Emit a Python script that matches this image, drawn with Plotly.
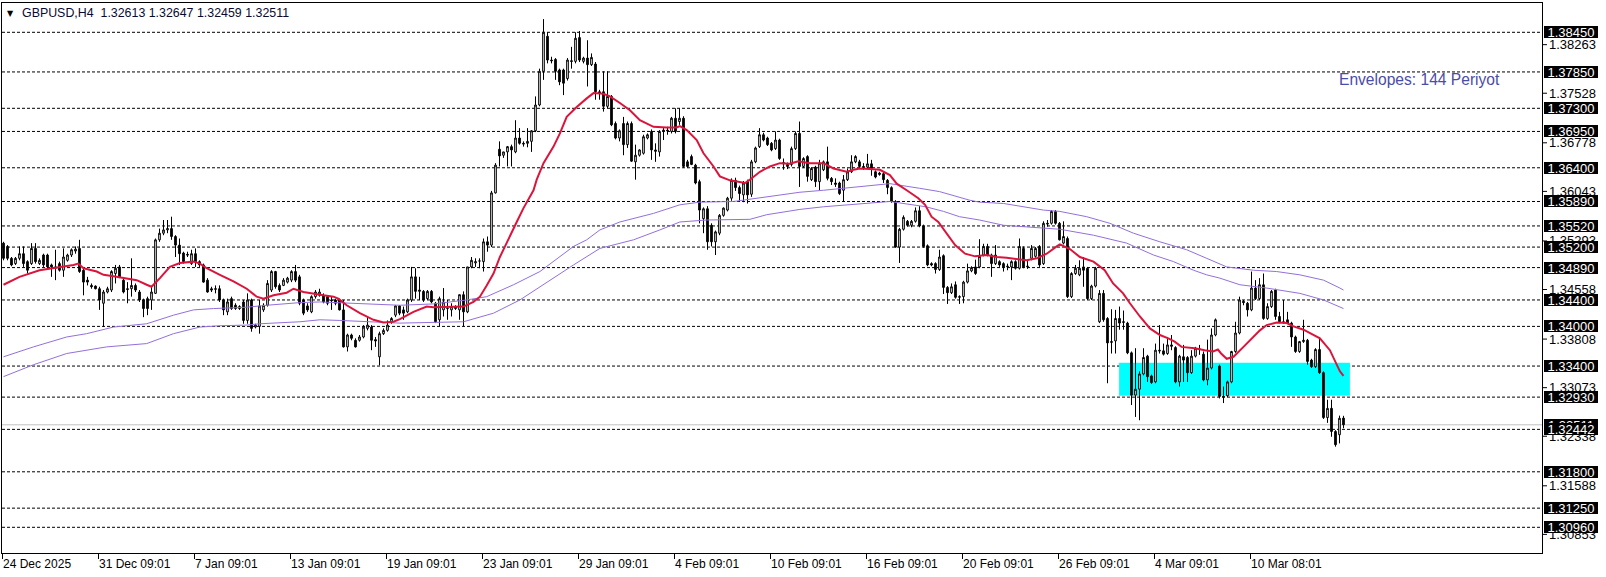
import plotly.graph_objects as go

# ---------------- data ----------------
open_ = [
1.3526,1.3521,1.3503,1.3495,1.3503,1.3510,1.3498,1.3495,1.3518,1.3495,
1.3508,1.3508,1.3493,1.3488,1.3495,1.3485,1.3500,1.3508,1.3514,1.3518,
1.3485,1.3470,1.3462,1.3461,1.3457,1.3435,1.3452,1.3455,1.3480,1.3490,
1.3470,1.3457,1.3457,1.3462,1.3452,1.3440,1.3442,1.3440,1.3450,1.3531,
1.3541,1.3546,1.3548,1.3536,1.3523,1.3511,1.3509,1.3495,1.3510,1.3498,
1.3493,1.3470,1.3457,1.3456,1.3457,1.3440,1.3422,1.3442,1.3432,1.3430,
1.3437,1.3409,1.3440,1.3399,1.3400,1.3425,1.3432,1.3455,1.3483,1.3462,
1.3462,1.3467,1.3470,1.3483,1.3475,1.3440,1.3431,1.3422,1.3445,1.3447,
1.3447,1.3445,1.3440,1.3440,1.3440,1.3425,1.3369,1.3387,1.3379,1.3379,
1.3384,1.3397,1.3399,1.3380,1.3354,1.3389,1.3394,1.3407,1.3417,1.3431,
1.3425,1.3422,1.3440,1.3475,1.3453,1.3453,1.3442,1.3453,1.3435,1.3410,
1.3425,1.3427,1.3425,1.3430,1.3425,1.3448,1.3422,1.3490,1.3496,1.3499,
1.3498,1.3528,1.3523,1.3602,1.3668,1.3659,1.3664,1.3672,1.3664,1.3685,
1.3677,1.3677,1.3680,1.3696,1.3735,1.3786,1.3839,1.3803,1.3804,1.3788,
1.3788,1.3775,1.3802,1.3801,1.3837,1.3801,1.3806,1.3796,1.3797,1.3755,
1.3755,1.3733,1.3748,1.3707,1.3685,1.3707,1.3675,1.3707,1.3649,1.3659,
1.3662,1.3685,1.3695,1.3667,1.3664,1.3695,1.3697,1.3695,1.3715,1.3710,
1.3715,1.3649,1.3657,1.3644,1.3619,1.3563,1.3578,1.3553,1.3528,1.3541,
1.3568,1.3576,1.3594,1.3621,1.3610,1.3599,1.3619,1.3600,1.3649,1.3672,
1.3690,1.3685,1.3677,1.3669,1.3682,1.3648,1.3645,1.3645,1.3669,1.3692,
1.3642,1.3657,1.3622,1.3641,1.3619,1.3637,1.3649,1.3624,1.3617,1.3617,
1.3606,1.3622,1.3634,1.3649,1.3649,1.3642,1.3641,1.3646,1.3634,1.3632,
1.3631,1.3621,1.3610,1.3589,1.3520,1.3547,1.3559,1.3553,1.3559,1.3575,
1.3552,1.3522,1.3495,1.3495,1.3486,1.3507,1.3459,1.3451,1.3463,1.3444,
1.3445,1.3467,1.3484,1.3490,1.3490,1.3508,1.3521,1.3508,1.3495,1.3498,
1.3495,1.3490,1.3490,1.3498,1.3488,1.3518,1.3490,1.3503,1.3506,1.3521,
1.3495,1.3556,1.3556,1.3574,1.3556,1.3526,1.3533,1.3445,1.3480,1.3478,
1.3490,1.3488,1.3442,1.3461,1.3407,1.3450,1.3412,1.3377,1.3378,1.3412,
1.3406,1.3405,1.3360,1.3296,1.3305,1.3328,1.3355,1.3325,1.3316,1.3364,
1.3363,1.3359,1.3372,1.3368,1.3316,1.3354,1.3353,1.3330,1.3355,1.3366,
1.3358,1.3319,1.3337,1.3387,1.3340,1.3294,1.3295,1.3316,1.3362,1.3390,
1.3438,1.3435,1.3425,1.3458,1.3442,1.3463,1.3412,1.3430,1.3455,1.3415,
1.3407,1.3410,1.3405,1.3384,1.3362,1.3377,1.3379,1.3349,1.3339,1.3365,
1.3330,1.3262,1.3276,1.3241,1.3236,1.32613]

high = [
1.3528,1.3523,1.3505,1.3505,1.3521,1.3521,1.3500,1.3526,1.3526,1.3503,
1.3510,1.3510,1.3495,1.3516,1.3498,1.3518,1.3510,1.3518,1.3521,1.3531,
1.3488,1.3475,1.3465,1.3462,1.3460,1.3455,1.3460,1.3485,1.3493,1.3493,
1.3473,1.3467,1.3503,1.3465,1.3455,1.3442,1.3445,1.3460,1.3533,1.3548,
1.3561,1.3561,1.3566,1.3538,1.3533,1.3513,1.3513,1.3516,1.3518,1.3500,
1.3495,1.3473,1.3460,1.3462,1.3462,1.3442,1.3442,1.3445,1.3435,1.3432,
1.3440,1.3450,1.3442,1.3404,1.3440,1.3435,1.3470,1.3485,1.3484,1.3465,
1.3473,1.3475,1.3485,1.3493,1.3478,1.3442,1.3435,1.3447,1.3455,1.3457,
1.3450,1.3447,1.3445,1.3442,1.3442,1.3440,1.3389,1.3389,1.3382,1.3387,
1.3402,1.3414,1.3402,1.3384,1.3392,1.3397,1.3409,1.3414,1.3432,1.3432,
1.3430,1.3442,1.3490,1.3488,1.3475,1.3455,1.3455,1.3455,1.3437,1.3445,
1.3458,1.3440,1.3435,1.3432,1.3448,1.3453,1.3490,1.3505,1.3503,1.3503,
1.3533,1.3536,1.3605,1.3647,1.3680,1.3664,1.3673,1.3675,1.3712,1.3700,
1.3680,1.3700,1.3697,1.3748,1.3790,1.3865,1.3845,1.3808,1.3806,1.3790,
1.3790,1.3806,1.3823,1.3845,1.3847,1.3808,1.3833,1.3813,1.3800,1.3758,
1.3786,1.3786,1.3750,1.3710,1.3698,1.3717,1.3710,1.3710,1.3675,1.3668,
1.3690,1.3692,1.3698,1.3677,1.3697,1.3700,1.3702,1.3717,1.3730,1.3730,
1.3718,1.3652,1.3660,1.3646,1.3622,1.3580,1.3582,1.3556,1.3545,1.3570,
1.3580,1.3596,1.3624,1.3625,1.3613,1.3620,1.3622,1.3652,1.3672,1.3700,
1.3693,1.3687,1.3679,1.3695,1.3684,1.3654,1.3648,1.3672,1.3695,1.3710,
1.3656,1.3659,1.3641,1.3643,1.3652,1.3651,1.3672,1.3626,1.3624,1.3619,
1.3629,1.3639,1.3659,1.3659,1.3652,1.3647,1.3661,1.3652,1.3636,1.3634,
1.3634,1.3623,1.3612,1.3591,1.3549,1.3568,1.3561,1.3561,1.3580,1.3582,
1.3554,1.3524,1.3497,1.3497,1.3516,1.3509,1.3461,1.3465,1.3468,1.3447,
1.3469,1.3495,1.3491,1.3501,1.3532,1.3525,1.3525,1.3510,1.3523,1.3500,
1.3497,1.3495,1.3500,1.3500,1.3533,1.3521,1.3500,1.3523,1.3520,1.3523,
1.3559,1.3561,1.3576,1.3576,1.3558,1.3559,1.3536,1.3482,1.3493,1.3500,
1.3505,1.3490,1.3463,1.3490,1.3455,1.3455,1.3414,1.3426,1.3425,1.3430,
1.3424,1.3407,1.3362,1.3367,1.3332,1.3367,1.3357,1.3327,1.3374,1.3402,
1.3374,1.3384,1.3387,1.3370,1.3357,1.3372,1.3355,1.3364,1.3369,1.3372,
1.3362,1.3380,1.3397,1.3412,1.3342,1.3309,1.3318,1.3363,1.3407,1.3445,
1.3440,1.3437,1.3483,1.3470,1.3473,1.3480,1.3435,1.3455,1.3457,1.3422,
1.3440,1.3422,1.3407,1.3386,1.3378,1.3410,1.3381,1.3351,1.3367,1.3384,
1.3332,1.3289,1.3289,1.3243,1.3265,1.32647]

low = [
1.3500,1.3500,1.3491,1.3493,1.3500,1.3490,1.3480,1.3493,1.3495,1.3493,
1.3490,1.3488,1.3475,1.3470,1.3483,1.3475,1.3498,1.3505,1.3510,1.3481,
1.3447,1.3462,1.3457,1.3456,1.3425,1.3399,1.3450,1.3452,1.3465,1.3473,
1.3450,1.3435,1.3445,1.3452,1.3437,1.3414,1.3417,1.3425,1.3449,1.3528,
1.3538,1.3541,1.3531,1.3505,1.3493,1.3495,1.3505,1.3493,1.3490,1.3490,
1.3466,1.3451,1.3452,1.3450,1.3437,1.3417,1.3417,1.3425,1.3425,1.3425,
1.3404,1.3404,1.3392,1.3397,1.3389,1.3422,1.3430,1.3452,1.3457,1.3452,
1.3461,1.3465,1.3467,1.3467,1.3432,1.3417,1.3422,1.3420,1.3442,1.3445,
1.3435,1.3432,1.3425,1.3432,1.3424,1.3368,1.3362,1.3379,1.3368,1.3377,
1.3382,1.3394,1.3364,1.3369,1.3341,1.3387,1.3392,1.3404,1.3414,1.3417,
1.3410,1.3420,1.3437,1.3442,1.3440,1.3437,1.3440,1.3435,1.3405,1.3400,
1.3415,1.3410,1.3415,1.3425,1.3410,1.3400,1.3420,1.3488,1.3490,1.3488,
1.3483,1.3513,1.3520,1.3601,1.3642,1.3655,1.3642,1.3642,1.3662,1.3675,
1.3672,1.3671,1.3664,1.3694,1.3733,1.3773,1.3798,1.3798,1.3773,1.3765,
1.3750,1.3772,1.3790,1.3798,1.3800,1.3798,1.3763,1.3794,1.3743,1.3743,
1.3725,1.3730,1.3703,1.3683,1.3680,1.3659,1.3670,1.3649,1.3622,1.3657,
1.3660,1.3683,1.3652,1.3649,1.3657,1.3682,1.3690,1.3692,1.3692,1.3705,
1.3640,1.3640,1.3644,1.3615,1.3556,1.3541,1.3516,1.3521,1.3508,1.3538,
1.3566,1.3574,1.3590,1.3605,1.3590,1.3588,1.3586,1.3596,1.3647,1.3670,
1.3680,1.3673,1.3665,1.3667,1.3652,1.3637,1.3638,1.3642,1.3667,1.3611,
1.3640,1.3619,1.3620,1.3611,1.3606,1.3635,1.3621,1.3614,1.3611,1.3599,
1.3589,1.3620,1.3632,1.3647,1.3640,1.3637,1.3639,1.3628,1.3624,1.3628,
1.3617,1.3600,1.3587,1.3519,1.3496,1.3545,1.3551,1.3550,1.3557,1.3550,
1.3519,1.3491,1.3491,1.3480,1.3484,1.3449,1.3434,1.3449,1.3442,1.3434,
1.3435,1.3465,1.3482,1.3478,1.3488,1.3506,1.3506,1.3475,1.3493,1.3490,
1.3483,1.3485,1.3470,1.3486,1.3486,1.3488,1.3487,1.3500,1.3504,1.3490,
1.3493,1.3551,1.3554,1.3554,1.3530,1.3524,1.3443,1.3443,1.3478,1.3476,
1.3460,1.3440,1.3440,1.3459,1.3405,1.3407,1.3314,1.3359,1.3359,1.3395,
1.3395,1.3358,1.3281,1.3263,1.3258,1.3326,1.3316,1.3313,1.3314,1.3359,
1.3356,1.3357,1.3364,1.3314,1.3309,1.3316,1.3316,1.3328,1.3353,1.3357,
1.3317,1.3311,1.3335,1.3385,1.3291,1.3284,1.3293,1.3314,1.3360,1.3388,
1.3432,1.3415,1.3423,1.3440,1.3440,1.3410,1.3410,1.3428,1.3410,1.3405,
1.3404,1.3404,1.3369,1.3360,1.3360,1.3375,1.3342,1.3337,1.3337,1.3328,
1.3260,1.3254,1.3233,1.3218,1.3223,1.32459]

close = [
1.3503,1.3503,1.3493,1.3503,1.3510,1.3495,1.3485,1.3518,1.3498,1.3500,
1.3493,1.3490,1.3490,1.3490,1.3485,1.3505,1.3508,1.3516,1.3517,1.3483,
1.3467,1.3467,1.3460,1.3457,1.3440,1.3452,1.3457,1.3483,1.3488,1.3475,
1.3452,1.3456,1.3462,1.3455,1.3440,1.3427,1.3427,1.3452,1.3531,1.3541,
1.3546,1.3548,1.3536,1.3523,1.3510,1.3498,1.3508,1.3510,1.3498,1.3493,
1.3467,1.3452,1.3455,1.3457,1.3440,1.3425,1.3437,1.3427,1.3427,1.3427,
1.3409,1.3440,1.3397,1.3402,1.3431,1.3432,1.3465,1.3483,1.3460,1.3455,
1.3470,1.3473,1.3483,1.3470,1.3435,1.3420,1.3425,1.3445,1.3452,1.3452,
1.3437,1.3435,1.3439,1.3435,1.3425,1.3369,1.3387,1.3382,1.3369,1.3384,
1.3399,1.3402,1.3379,1.3378,1.3389,1.3394,1.3402,1.3412,1.3431,1.3420,
1.3420,1.3440,1.3475,1.3453,1.3455,1.3440,1.3453,1.3437,1.3407,1.3442,
1.3437,1.3427,1.3430,1.3427,1.3448,1.3422,1.3490,1.3500,1.3498,1.3499,
1.3528,1.3523,1.3602,1.3644,1.3658,1.3664,1.3672,1.3667,1.3685,1.3677,
1.3676,1.3680,1.3696,1.3735,1.3786,1.3845,1.3803,1.3802,1.3786,1.3770,
1.3768,1.3803,1.3801,1.3836,1.3803,1.3806,1.3796,1.3807,1.3755,1.3753,
1.3733,1.3748,1.3705,1.3685,1.3696,1.3675,1.3707,1.3650,1.3659,1.3667,
1.3687,1.3690,1.3667,1.3665,1.3695,1.3697,1.3696,1.3715,1.3695,1.3715,
1.3642,1.3642,1.3645,1.3617,1.3576,1.3578,1.3528,1.3528,1.3543,1.3568,
1.3579,1.3594,1.3621,1.3610,1.3601,1.3617,1.3599,1.3649,1.3670,1.3690,
1.3682,1.3675,1.3667,1.3682,1.3654,1.3646,1.3642,1.3669,1.3692,1.3642,
1.3654,1.3627,1.3639,1.3619,1.3647,1.3649,1.3624,1.3619,1.3615,1.3601,
1.3622,1.3634,1.3649,1.3657,1.3642,1.3641,1.3646,1.3639,1.3626,1.3630,
1.3622,1.3610,1.3589,1.3520,1.3547,1.3565,1.3553,1.3559,1.3575,1.3552,
1.3521,1.3493,1.3493,1.3486,1.3505,1.3459,1.3451,1.3460,1.3444,1.3445,
1.3467,1.3484,1.3489,1.3480,1.3506,1.3521,1.3508,1.3495,1.3508,1.3493,
1.3490,1.3491,1.3498,1.3488,1.3521,1.3490,1.3491,1.3518,1.3518,1.3493,
1.3556,1.3555,1.3574,1.3556,1.3531,1.3536,1.3445,1.3480,1.3488,1.3488,
1.3485,1.3442,1.3461,1.3488,1.3450,1.3410,1.3375,1.3376,1.3412,1.3405,
1.3407,1.3360,1.3296,1.3305,1.3328,1.3353,1.3324,1.3315,1.3364,1.3363,
1.3358,1.3372,1.3370,1.3316,1.3355,1.3349,1.3330,1.3355,1.3367,1.3365,
1.3319,1.3337,1.3387,1.3410,1.3294,1.3293,1.3316,1.3362,1.3390,1.3440,
1.3436,1.3425,1.3458,1.3442,1.3463,1.3412,1.3430,1.3453,1.3415,1.3407,
1.3406,1.3405,1.3384,1.3362,1.3377,1.3379,1.3347,1.3339,1.3365,1.3330,
1.3262,1.3276,1.3241,1.3221,1.3261,1.32511]

# moving average (red) read at bar positions
ma_bar = [0,4,9,12.5,14,17.5,18.7,20,23.3,25,27.5,30.8,33.3,35.8,37,39.1,41.6,44.1,47.5,49.1,
          50.8,54.1,57.5,60.8,63.3,65,67.5,70.8,72.5,75,77.5,80,82.5,83.7,85.8,89.1,92.5,95,97.5,99.1,
          102.5,105.8,107.5,115,117.5,119.1,120.8,122.5,124.1,126.6,128.3,130,132.5,133.3,135,137.5,
          139.1,140.8,143.3,145.8,147.5,150,151.6,154.1,156.6,159.1,162.5,165.8,168.3,169.1,170.8,
          173.3,175,177.5,179.1,181.6,184.1,185.4,186.6,189.1,191.6,194.1,196.6,198.7,201.6,205,
          207.5,210.8,212.5,214.1,216.6,219.1,221.6,223.3,225.8,228.7,230.4,232,233.7,235.8,237.9,
          240.4,242.9,245.8,248.3,250.8,253.3,255.8,258.3,260.8,263.3,264.1,266.6,269.1,
          272.5,275.3,277.4,279.9,281.6,284.1,286.6,289.1,291.2,292.8,294.5,297.8,300.3,302.4,303.6,
          304.4,305.8,307.5,310,312.5,314.1,315.8,318.3,320.8,322.5,325,327.5,329.1,331.6,334.1,335]
ma_val = [1.3463,1.3475,1.3485,1.3488,1.3489,1.3493,1.3495,1.3488,1.3483,1.3478,1.3476,1.3473,1.3470,
          1.3463,1.3460,1.3473,1.3490,1.3496,1.3498,1.3495,1.3488,1.3478,1.3468,1.3457,1.3445,1.3442,
          1.3447,1.3451,1.3457,1.3452,1.3449,1.3447,1.3445,1.3442,1.3432,1.3420,1.3410,1.3406,1.3407,
          1.3411,1.3422,1.3430,1.3429,1.3430,1.3437,1.3445,1.3462,1.3480,1.3505,1.3538,1.3558,1.3579,
          1.3606,1.3622,1.3647,1.3672,1.3692,1.3717,1.3732,1.3745,1.3753,1.3752,1.3748,1.3738,1.3727,
          1.3712,1.3702,1.3701,1.3701,1.3703,1.3697,1.3682,1.3662,1.3642,1.3627,1.3621,1.3618,1.3617,
          1.3622,1.3634,1.3642,1.3647,1.3646,1.3650,1.3647,1.3647,1.3639,1.3634,1.3637,1.3639,1.3638,
          1.3637,1.3629,1.3616,1.3606,1.3594,1.3584,1.3566,1.3558,1.3541,1.3523,
          1.3510,1.3506,1.3508,1.3505,1.3504,1.3502,1.3500,1.3503,1.3510,1.3521,1.3524,1.3517,1.3505,
          1.3498,1.3485,1.3465,1.3450,1.3435,1.3415,1.3397,1.3387,1.3382,1.3377,1.3369,1.3367,1.3364,
          1.3362,1.3365,1.3359,1.3351,1.3354,1.3369,1.3384,1.3394,1.3402,1.3406,1.3405,1.3400,1.3395,
          1.3387,1.3382,1.3364,1.3332,1.3325]

# envelopes (144), upper and lower bands
env_up_bar = [0,7.5,15.8,20.8,27.5,35.8,42.5,47.5,52.5,60.8,65.8,74.1,79.1,84.1,90.8,99.1,107.5,115.8,
              120.8,127.5,134.1,137.5,142.5,145.8,149.1,154.1,162.5,169.1,174.1,182.5,190.8,199.1,205,
              213.3,221.6,229,234,241.5,244,250,255,260,264.1,270.8,276.6,282.5,289.1,295.8,300.8,
              305.8,312.5,318.3,324.1,330,334.1,335]
env_up_val = [1.3354,1.3369,1.3384,1.3389,1.3399,1.3404,1.3417,1.3425,1.3427,1.3429,1.3432,1.3436,1.3437,
              1.3436,1.3434,1.3432,1.3434,1.3440,1.3445,1.3463,1.3483,1.3498,1.3521,1.3531,1.3546,1.3558,
              1.3571,1.3584,1.3588,1.3589,1.3596,1.3603,1.3606,1.3611,1.3616,1.3609,1.3604,1.3591,1.3588,
              1.3586,1.3581,1.3576,1.3574,1.3566,1.3556,1.3541,1.3528,1.3516,1.3503,1.3490,1.3485,1.3483,
              1.3478,1.3470,1.3458,1.3455]
env_lo_bar = [0,7.5,15.8,25.8,35.8,42.5,49.1,54.1,60.8,64.1,74.1,79.1,84.1,90.8,99.1,115,122.5,129.1,
              134.1,142.5,149.1,157.5,164.1,169.1,175.8,182.5,186.6,190.8,199.1,205,213.3,221.6,230.6,
              235,239,244,250,256.6,264.1,272.5,280.8,287.5,292.5,297.5,300.8,304.1,309.1,315.8,324.1,
              330,334.1,335]
env_lo_val = [1.3324,1.3342,1.3359,1.3369,1.3374,1.3389,1.3399,1.3401,1.3402,1.3404,1.3407,1.3410,1.3409,
              1.3407,1.3405,1.3407,1.3420,1.3440,1.3460,1.3493,1.3518,1.3531,1.3546,1.3558,1.3561,1.3561,
              1.3562,1.3569,1.3577,1.3581,1.3585,1.3589,1.3581,1.3574,1.3566,1.3561,1.3553,1.3550,1.3547,
              1.3538,1.3526,1.3508,1.3498,1.3485,1.3478,1.3473,1.3463,1.3458,1.3450,1.3440,1.3430,1.3427]

# horizontal levels (black boxes) and price-scale labels
level_prices = [1.38450,1.37850,1.37300,1.36950,1.36400,1.35890,1.35520,1.35200,1.34890,
                1.34400,1.34000,1.33400,1.32930,1.32442,1.31800,1.31250,1.30960]
scale_prices = [1.38263,1.37528,1.36778,1.36043,1.35293,1.34558,1.33808,1.33073,1.32338,1.31588,1.30853]
bid_price = 1.32511

zone_bars = [278.9, 336.6]
zone_prices = [1.3295, 1.3345]

date_bars = [0,24,48,72,96,120,144,168,192,216,240,264,288,312]
date_labels = ["24 Dec 2025","31 Dec 09:01","7 Jan 09:01","13 Jan 09:01","19 Jan 09:01",
               "23 Jan 09:01","29 Jan 09:01","4 Feb 09:01","10 Feb 09:01","16 Feb 09:01",
               "20 Feb 09:01","26 Feb 09:01","4 Mar 09:01","10 Mar 08:01"]

title_text = "GBPUSD,H4\u00a0\u00a01.32613 1.32647 1.32459 1.32511"
indicator_text = "Envelopes: 144 Periyot"

# ---------------- figure ----------------
W, H = 1606, 577
ML, MR, MT, MB = 2, 64, 3, 24
PW = W - ML - MR
PH = H - MT - MB
FONT = "Liberation Sans, Arial, DejaVu Sans, sans-serif"

def px_to_paper_x(px):
    return (px - ML) / PW

def px_to_paper_y(py):
    return 1 - (py - MT) / PH

bars = list(range(len(close)))

fig = go.Figure()
fig.add_trace(go.Candlestick(
    x=bars, open=open_, high=high, low=low, close=close,
    increasing=dict(line=dict(color="black", width=1), fillcolor="white"),
    decreasing=dict(line=dict(color="black", width=1), fillcolor="black"),
    whiskerwidth=0, showlegend=False, hoverinfo="skip"))

fig.add_trace(go.Scatter(x=env_up_bar, y=env_up_val, mode="lines",
                         line=dict(color="#9370DB", width=1), showlegend=False, hoverinfo="skip"))
fig.add_trace(go.Scatter(x=env_lo_bar, y=env_lo_val, mode="lines",
                         line=dict(color="#9370DB", width=1), showlegend=False, hoverinfo="skip"))
fig.add_trace(go.Scatter(x=ma_bar, y=ma_val, mode="lines",
                         line=dict(color="#DC143C", width=2), showlegend=False, hoverinfo="skip"))

shapes = []
shapes.append(dict(type="rect", xref="x", yref="y", x0=zone_bars[0], x1=zone_bars[1],
                   y0=zone_prices[0], y1=zone_prices[1], fillcolor="#00FFFF",
                   line=dict(width=0), layer="below"))
shapes.append(dict(type="line", xref="paper", yref="y", x0=0, x1=1, y0=bid_price, y1=bid_price,
                   line=dict(color="#C0C0C0", width=1), layer="below"))
for p in level_prices:
    shapes.append(dict(type="line", xref="paper", yref="y", x0=0, x1=1, y0=p, y1=p,
                       line=dict(color="black", width=1, dash="3px,2px"), layer="below"))
for p in scale_prices:
    shapes.append(dict(type="line", xref="paper", yref="y", x0=1, x1=px_to_paper_x(1547),
                       y0=p, y1=p, line=dict(color="black", width=1)))
fig.update_layout(shapes=shapes)

ann = []
for p in scale_prices:
    ann.append(dict(xref="paper", yref="y", x=px_to_paper_x(1548), y=p, text=f"{p:.5f}",
                    showarrow=False, xanchor="left", yanchor="middle", borderpad=0,
                    font=dict(family=FONT, size=13, color="black")))
for p in [bid_price] + level_prices:
    ann.append(dict(xref="paper", yref="y", x=px_to_paper_x(1544), y=p, text=f"{p:.5f}",
                    showarrow=False, xanchor="left", yanchor="middle", bgcolor="black",
                    width=54, height=12, borderpad=0, borderwidth=0, align="center",
                    font=dict(family=FONT, size=13, color="white")))
for b, t in zip(date_bars, date_labels):
    ann.append(dict(xref="x", yref="paper", x=b - 0.375, y=0, text=t, showarrow=False,
                    xanchor="left", yanchor="top", yshift=-3, borderpad=0,
                    font=dict(family=FONT, size=12, color="black")))
ann.append(dict(xref="paper", yref="paper", x=px_to_paper_x(6), y=px_to_paper_y(13), text="\u25BC",
                showarrow=False, xanchor="left", yanchor="middle", borderpad=0,
                font=dict(family="DejaVu Sans", size=8, color="black")))
ann.append(dict(xref="paper", yref="paper", x=px_to_paper_x(21), y=px_to_paper_y(13), text=title_text,
                showarrow=False, xanchor="left", yanchor="middle", borderpad=0,
                font=dict(family=FONT, size=12.4, color="#0a0a30")))
ann.append(dict(xref="paper", yref="paper", x=px_to_paper_x(1338), y=px_to_paper_y(79),
                text=indicator_text, showarrow=False, xanchor="left", yanchor="middle", borderpad=0,
                font=dict(family=FONT, size=15.6, color="#4B4BA8")))
fig.update_layout(annotations=ann)

y_top = 1.3845 + (32.3 - MT) / 6609
y_bot = 1.3845 - (H - MB - 32.3) / 6609

fig.update_layout(
    width=W, height=H,
    margin=dict(l=ML, r=MR, t=MT, b=MB, pad=0),
    paper_bgcolor="white", plot_bgcolor="white",
    boxgap=0.4,
    hovermode=False,
    xaxis=dict(range=[-0.375, 384.625], showgrid=False, zeroline=False, rangeslider=dict(visible=False),
               showline=True, mirror=True, linecolor="black", linewidth=1,
               tickmode="array", tickvals=[b - 0.375 for b in date_bars], ticktext=[""] * len(date_bars),
               ticks="outside", ticklen=5, tickcolor="black", showticklabels=False),
    yaxis=dict(range=[y_bot, y_top], showgrid=False, zeroline=False, showline=True, mirror=True,
               linecolor="black", linewidth=1, showticklabels=False, ticks=""),
)

fig.write_html("out.html", config={"displayModeBar": False},
               post_script="document.body.style.margin='0';document.body.style.overflow='hidden';")
